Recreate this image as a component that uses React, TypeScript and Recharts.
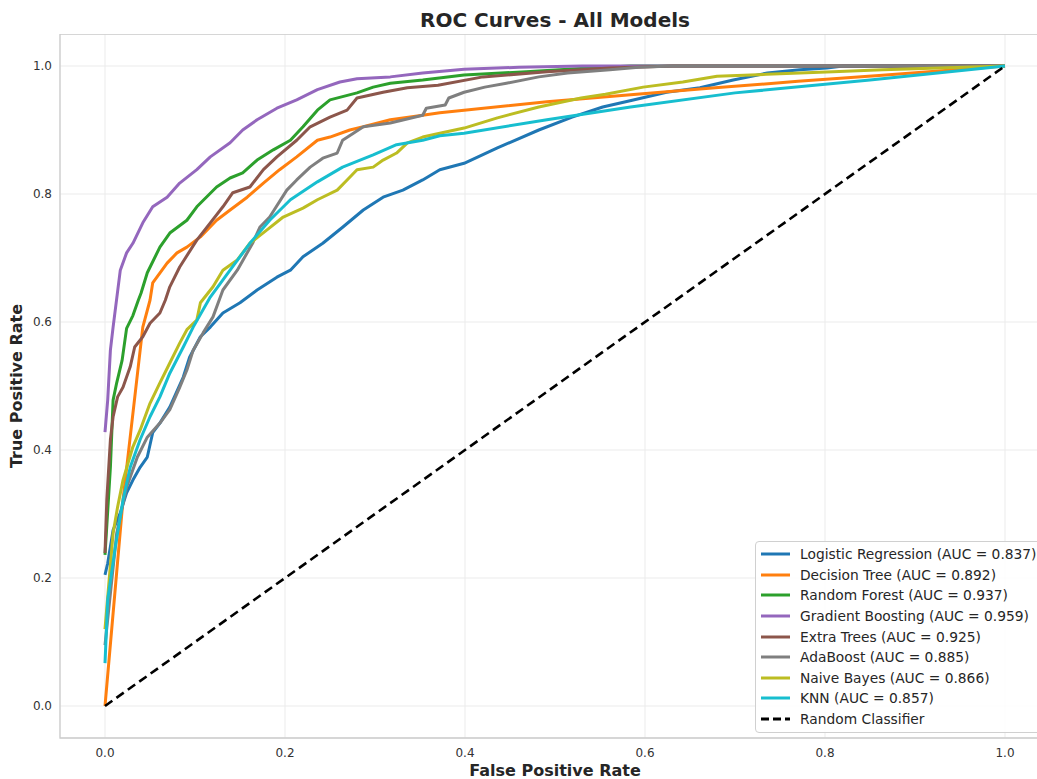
import { LineChart, Line, XAxis, YAxis, CartesianGrid, ReferenceArea } from 'recharts'

// ROC points, one fpr/tpr pair of arrays per model
const lrFpr = [0, 0.003, 0.009, 0.017, 0.024, 0.031, 0.039, 0.047, 0.053, 0.061, 0.072, 0.087, 0.094, 0.106, 0.117, 0.131, 0.15, 0.169, 0.191, 0.206, 0.22, 0.242, 0.264, 0.287, 0.309, 0.331, 0.353, 0.372, 0.399, 0.436, 0.482, 0.519, 0.553, 0.587, 0.624, 0.661, 0.698, 0.736, 0.772, 0.802, 0.82, 1.0]
const lrTpr = [0.205, 0.223, 0.275, 0.302, 0.333, 0.353, 0.373, 0.389, 0.427, 0.442, 0.467, 0.514, 0.545, 0.577, 0.592, 0.614, 0.63, 0.65, 0.67, 0.681, 0.702, 0.723, 0.748, 0.775, 0.795, 0.806, 0.822, 0.838, 0.848, 0.872, 0.9, 0.92, 0.936, 0.947, 0.959, 0.966, 0.978, 0.989, 0.994, 0.997, 1.0, 1.0]

const dtFpr = [0, 0.02, 0.042, 0.05, 0.053, 0.069, 0.08, 0.091, 0.106, 0.124, 0.139, 0.158, 0.176, 0.194, 0.213, 0.236, 0.25, 0.272, 0.287, 0.317, 0.353, 0.372, 0.399, 0.491, 0.584, 0.678, 0.77, 0.86, 1.0]
const dtTpr = [0, 0.322, 0.592, 0.634, 0.661, 0.692, 0.708, 0.717, 0.733, 0.759, 0.775, 0.795, 0.817, 0.838, 0.858, 0.884, 0.889, 0.9, 0.905, 0.916, 0.923, 0.927, 0.931, 0.944, 0.955, 0.966, 0.976, 0.985, 1.0]

const rfFpr = [0, 0.006, 0.009, 0.013, 0.019, 0.024, 0.031, 0.037, 0.04, 0.047, 0.061, 0.072, 0.091, 0.102, 0.124, 0.139, 0.153, 0.169, 0.187, 0.206, 0.22, 0.236, 0.25, 0.28, 0.298, 0.317, 0.353, 0.399, 0.468, 0.538, 0.584, 1.0]
const rfTpr = [0.236, 0.373, 0.478, 0.505, 0.54, 0.59, 0.61, 0.634, 0.645, 0.677, 0.717, 0.739, 0.759, 0.78, 0.811, 0.825, 0.833, 0.853, 0.869, 0.884, 0.905, 0.931, 0.947, 0.958, 0.967, 0.973, 0.978, 0.986, 0.991, 0.997, 1.0, 1.0]

const gbFpr = [0, 0.003, 0.006, 0.009, 0.017, 0.024, 0.031, 0.042, 0.053, 0.069, 0.083, 0.102, 0.117, 0.139, 0.153, 0.169, 0.191, 0.213, 0.236, 0.261, 0.28, 0.317, 0.353, 0.399, 0.46, 0.53, 1.0]
const gbTpr = [0.428, 0.478, 0.556, 0.592, 0.681, 0.708, 0.723, 0.755, 0.78, 0.795, 0.817, 0.838, 0.858, 0.88, 0.9, 0.916, 0.934, 0.947, 0.963, 0.975, 0.98, 0.983, 0.989, 0.995, 0.998, 1.0, 1.0]

const etFpr = [0, 0.002, 0.006, 0.009, 0.014, 0.02, 0.028, 0.033, 0.042, 0.05, 0.061, 0.067, 0.072, 0.083, 0.102, 0.117, 0.131, 0.142, 0.161, 0.176, 0.191, 0.213, 0.228, 0.25, 0.269, 0.28, 0.309, 0.336, 0.37, 0.42, 0.491, 0.561, 0.631, 1.0]
const etTpr = [0.239, 0.322, 0.416, 0.452, 0.483, 0.498, 0.53, 0.561, 0.577, 0.598, 0.614, 0.634, 0.655, 0.686, 0.728, 0.755, 0.78, 0.802, 0.811, 0.838, 0.858, 0.884, 0.905, 0.92, 0.931, 0.95, 0.959, 0.966, 0.97, 0.983, 0.991, 0.997, 1.0, 1.0]

const abFpr = [0, 0.013, 0.024, 0.036, 0.047, 0.061, 0.072, 0.083, 0.091, 0.098, 0.109, 0.12, 0.131, 0.147, 0.164, 0.172, 0.183, 0.202, 0.213, 0.228, 0.242, 0.258, 0.264, 0.276, 0.287, 0.317, 0.353, 0.357, 0.378, 0.382, 0.399, 0.422, 0.446, 0.482, 0.514, 0.561, 0.593, 0.631, 1.0]
const abTpr = [0.095, 0.27, 0.342, 0.389, 0.42, 0.442, 0.463, 0.498, 0.525, 0.556, 0.583, 0.608, 0.65, 0.681, 0.723, 0.748, 0.764, 0.806, 0.822, 0.842, 0.856, 0.864, 0.884, 0.895, 0.905, 0.911, 0.923, 0.934, 0.939, 0.95, 0.959, 0.967, 0.973, 0.983, 0.989, 0.994, 0.998, 1.0, 1.0]

const nbFpr = [0, 0.009, 0.014, 0.02, 0.031, 0.039, 0.05, 0.061, 0.072, 0.083, 0.091, 0.102, 0.106, 0.12, 0.131, 0.147, 0.161, 0.18, 0.198, 0.22, 0.236, 0.258, 0.269, 0.28, 0.298, 0.309, 0.324, 0.336, 0.353, 0.372, 0.399, 0.436, 0.482, 0.529, 0.556, 0.598, 0.642, 0.68, 0.735, 0.809, 0.864, 1.0]
const nbTpr = [0.12, 0.27, 0.311, 0.353, 0.405, 0.431, 0.473, 0.505, 0.536, 0.567, 0.588, 0.603, 0.63, 0.655, 0.681, 0.697, 0.723, 0.744, 0.764, 0.778, 0.791, 0.806, 0.822, 0.838, 0.842, 0.853, 0.864, 0.88, 0.889, 0.895, 0.903, 0.919, 0.936, 0.95, 0.956, 0.967, 0.975, 0.984, 0.987, 0.991, 0.994, 1.0]

const knnFpr = [0, 0.003, 0.011, 0.02, 0.028, 0.039, 0.05, 0.061, 0.072, 0.087, 0.098, 0.117, 0.139, 0.161, 0.183, 0.206, 0.236, 0.264, 0.298, 0.324, 0.353, 0.372, 0.399, 0.491, 0.584, 0.7, 0.85, 1.0]
const knnTpr = [0.067, 0.166, 0.244, 0.322, 0.373, 0.416, 0.452, 0.483, 0.52, 0.561, 0.592, 0.639, 0.681, 0.723, 0.759, 0.791, 0.819, 0.842, 0.861, 0.877, 0.884, 0.891, 0.895, 0.916, 0.936, 0.958, 0.978, 1.0]

const chanceFpr = [0, 1]
const chanceTpr = [0, 1]

const modelNames = ['Logistic Regression', 'Decision Tree', 'Random Forest', 'Gradient Boosting', 'Extra Trees', 'AdaBoost', 'Naive Bayes', 'KNN']
const modelAuc = [0.837, 0.892, 0.937, 0.959, 0.925, 0.885, 0.866, 0.857]
const modelFpr = [lrFpr, dtFpr, rfFpr, gbFpr, etFpr, abFpr, nbFpr, knnFpr]
const modelTpr = [lrTpr, dtTpr, rfTpr, gbTpr, etTpr, abTpr, nbTpr, knnTpr]
const COLORS = ['#1f77b4', '#ff7f0e', '#2ca02c', '#9467bd', '#8c564b', '#7f7f7f', '#bcbd22', '#17becf']

const axisTicks = [0, 0.2, 0.4, 0.6, 0.8, 1.0]

const toPoints = (fpr: number[], tpr: number[]) => fpr.map((x, i) => ({ x, y: tpr[i] }))

const FONT = '"DejaVu Sans", sans-serif'
const TEXT = '#262626'

function RocLegend() {
    const rows = modelNames.map((n, i) => ({
        label: `${n} (AUC = ${modelAuc[i].toFixed(3)})`,
        color: COLORS[i],
        dashed: false,
    }))
    rows.push({ label: 'Random Classifier', color: '#000000', dashed: true })
    return (
        <div
            style={{
                position: 'absolute',
                left: 755,
                top: 541,
                width: 300,
                padding: '2px 0 3px 0',
                background: 'rgba(255,255,255,0.85)',
                border: '1px solid #d0d0d0',
                borderRadius: 4,
                fontFamily: FONT,
                fontSize: 13.8,
                color: TEXT,
            }}
        >
            {rows.map((r) => (
                <div key={r.label} style={{ display: 'flex', alignItems: 'center', height: 20.6 }}>
                    <svg width={44} height={10} style={{ flex: 'none' }}>
                        <line
                            x1={5}
                            x2={34}
                            y1={5}
                            y2={5}
                            stroke={r.color}
                            strokeWidth={3}
                            strokeDasharray={r.dashed ? '8 4' : undefined}
                        />
                    </svg>
                    <span style={{ whiteSpace: 'nowrap' }}>{r.label}</span>
                </div>
            ))}
        </div>
    )
}

export default function App() {
    const tickStyle = { fill: '#333333', fontSize: 12, fontFamily: FONT }
    return (
        <div style={{ position: 'absolute', left: 0, top: 0, width: 1037, height: 779, overflow: 'hidden', background: '#fff' }}>
            <div
                style={{
                    position: 'absolute',
                    left: 0,
                    top: 9,
                    width: 1110,
                    textAlign: 'center',
                    fontFamily: FONT,
                    fontWeight: 'bold',
                    fontSize: 20,
                    lineHeight: '22px',
                    color: TEXT,
                }}
            >
                ROC Curves - All Models
            </div>
            <div style={{ position: 'absolute', left: 0, top: 34 }}>
                <LineChart width={1060} height={745} margin={{ top: 0, right: 10, bottom: 0, left: 0 }}>
                    <CartesianGrid stroke="#ebebeb" strokeWidth={1} />
                    <XAxis
                        type="number"
                        dataKey="x"
                        domain={[-0.05, 1.05]}
                        ticks={axisTicks}
                        allowDataOverflow
                        height={41}
                        axisLine={false}
                        tickLine={false}
                        tickSize={0}
                        tickMargin={10}
                        tick={tickStyle}
                        tickFormatter={(v: number) => v.toFixed(1)}
                    />
                    <YAxis
                        type="number"
                        dataKey="y"
                        domain={[-0.05, 1.05]}
                        ticks={axisTicks}
                        allowDataOverflow
                        width={60}
                        axisLine={false}
                        tickLine={false}
                        tickSize={0}
                        tickMargin={8}
                        tick={tickStyle}
                        tickFormatter={(v: number) => v.toFixed(1)}
                    />
                    <ReferenceArea x1={-0.05} x2={1.05} y1={-0.05} y2={1.05} fill="none" stroke="#cccccc" strokeWidth={1.3} />
                    {modelNames.map((n, i) => (
                        <Line
                            key={n}
                            data={toPoints(modelFpr[i], modelTpr[i])}
                            dataKey="y"
                            name={n}
                            type="linear"
                            stroke={COLORS[i]}
                            strokeWidth={3}
                            strokeLinejoin="round"
                            dot={false}
                            isAnimationActive={false}
                        />
                    ))}
                    <Line
                        data={toPoints(chanceFpr, chanceTpr)}
                        dataKey="y"
                        name="Random Classifier"
                        type="linear"
                        stroke="#000000"
                        strokeWidth={2.6}
                        strokeDasharray="9 5"
                        dot={false}
                        isAnimationActive={false}
                    />
                </LineChart>
            </div>
            <div
                style={{
                    position: 'absolute',
                    left: 0,
                    top: 762,
                    width: 1110,
                    textAlign: 'center',
                    fontFamily: FONT,
                    fontWeight: 'bold',
                    fontSize: 16,
                    lineHeight: '18px',
                    color: TEXT,
                }}
            >
                False Positive Rate
            </div>
            <div
                style={{
                    position: 'absolute',
                    left: 17,
                    top: 386,
                    transform: 'translate(-50%, -50%) rotate(-90deg)',
                    whiteSpace: 'nowrap',
                    fontFamily: FONT,
                    fontWeight: 'bold',
                    fontSize: 16,
                    lineHeight: '18px',
                    color: TEXT,
                }}
            >
                True Positive Rate
            </div>
            <RocLegend />
        </div>
    )
}
